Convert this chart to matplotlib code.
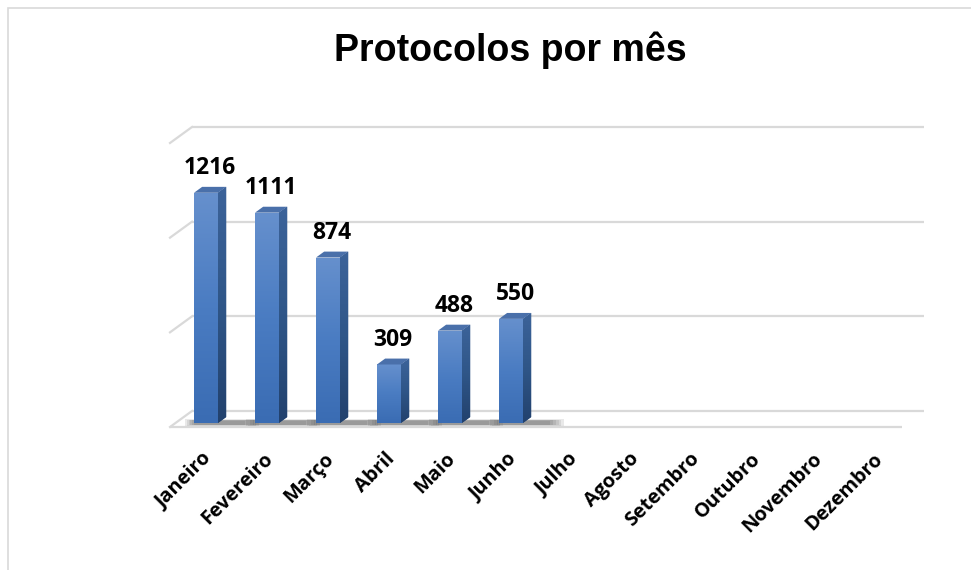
import matplotlib.pyplot as plt
import numpy as np
from matplotlib.patches import Polygon, Rectangle
from matplotlib.colors import LinearSegmentedColormap

meses = ['Janeiro', 'Fevereiro', 'Março', 'Abril', 'Maio', 'Junho', 'Julho',
         'Agosto', 'Setembro', 'Outubro', 'Novembro', 'Dezembro']
protocolos = [1216, 1111, 874, 309, 488, 550]
grade = [0, 500, 1000, 1500]

W, H = 971, 570
fig = plt.figure(figsize=(W / 100, H / 100), dpi=100)
fig.patch.set_facecolor('white')

# chart border (light gray, runs off right and bottom)
fig.add_artist(Rectangle((8 / W, -0.1), 1.2, 1 - 8 / H + 0.1, transform=fig.transFigure,
                         fill=False, edgecolor='#d9d9d9', linewidth=1.2))

fig.text(510 / W, 1 - 50 / H, 'Protocolos por mês', ha='center', va='center',
         fontsize=27, fontweight='bold', family='Liberation Sans')

# front plane of plot area: x -0.5..11.5 from px 170 to 902, y 0..1500 from px 427 to 143
ax = fig.add_axes([170 / W, (H - 427) / H, 732 / W, 284 / H])
ax.set_xlim(-0.5, 11.5)
ax.set_ylim(0, 1500)
ax.axis('off')

px_x = 732 / 12          # pixels per category
px_y = 284 / 1500        # pixels per unit
DX = 22 / px_x           # depth shift of back wall
DY = 16 / px_y
gcol = '#d9d9d9'

# back wall gridlines + left diagonals
for v in grade:
    ax.plot([-0.5 + DX, 11.5 + DX], [v + DY, v + DY], color=gcol, lw=1.6,
            clip_on=False, solid_capstyle='butt')
    ax.plot([-0.5, -0.5 + DX], [v, v + DY], color=gcol, lw=1.6, clip_on=False)
# floor front edge
ax.plot([-0.5, 11.5], [0, 0], color=gcol, lw=1.6, clip_on=False, solid_capstyle='butt')

# bar geometry (depth fractions of the floor)
d0, d1 = 0.25, 0.62
bw = 24 / px_x
xs = np.arange(len(protocolos))
left = xs - bw / 2 + d0 * DX
base = d0 * DY

# soft shadow on the floor
for k in range(6):
    spread = k * 0.03
    for x0 in left:
        ax.add_patch(Polygon([[x0 - spread, base - 8 - k * 1.5],
                              [x0 + bw + 0.45 + spread * 1.5, base - 8 - k * 1.5],
                              [x0 + bw + 0.45 + spread * 1.5, base + 12 + k * 1.5],
                              [x0 - spread, base + 12 + k * 1.5]],
                             closed=True, facecolor='#303030', edgecolor='none',
                             alpha=0.1, zorder=2, clip_on=False))

front_cmap = LinearSegmentedColormap.from_list('f', ['#3a6cb3', '#4a7cc2', '#6690cd'])
side_cmap = LinearSegmentedColormap.from_list('s', ['#22416d', '#2f5688', '#3c639a'])
grad = np.linspace(0, 1, 256).reshape(-1, 1)

bars = ax.bar(left, protocolos, width=bw, bottom=base, align='edge',
              color='#4a7cc2', edgecolor='none', zorder=3, clip_on=False)
ddx = (d1 - d0) * DX
ddy = (d1 - d0) * DY
for bar, x0, v in zip(bars, left, protocolos):
    top = base + v
    im = ax.imshow(grad, extent=[x0, x0 + bw, base, top], origin='lower', cmap=front_cmap,
                   aspect='auto', zorder=3.1)
    im.set_clip_path(bar)
    side = Polygon([[x0 + bw, base], [x0 + bw + ddx, base + ddy],
                    [x0 + bw + ddx, top + ddy], [x0 + bw, top]],
                   closed=True, facecolor='#2c5080', edgecolor='none', zorder=3, clip_on=False)
    ax.add_patch(side)
    ims = ax.imshow(grad, extent=[x0 + bw, x0 + bw + ddx, base, top + ddy], origin='lower',
                    cmap=side_cmap, aspect='auto', zorder=3.1)
    ims.set_clip_path(side)
    ax.add_patch(Polygon([[x0, top], [x0 + bw, top], [x0 + bw + ddx, top + ddy],
                          [x0 + ddx, top + ddy]],
                         closed=True, facecolor='#4a70aa', edgecolor='none', zorder=3.2,
                         clip_on=False))
    ax.annotate(str(v), (x0 + (bw + ddx) / 2, top + ddy), xytext=(0, 13),
                textcoords='offset pixels', ha='center', va='baseline',
                fontsize=16.5, fontweight='bold', family='Open Sans', zorder=5,
                annotation_clip=False)

ax.set_xlim(-0.5, 11.5)
ax.set_ylim(0, 1500)

# month labels at 45 degrees
for i, m in enumerate(meses):
    ax.annotate(m, (i + 0.02, 0), xytext=(0, -22), textcoords='offset pixels',
                rotation=45, ha='right', va='top', rotation_mode='anchor',
                fontsize=14.3, fontweight='bold', family='Open Sans', annotation_clip=False)

fig.savefig('out.png', dpi=100, facecolor='white')
